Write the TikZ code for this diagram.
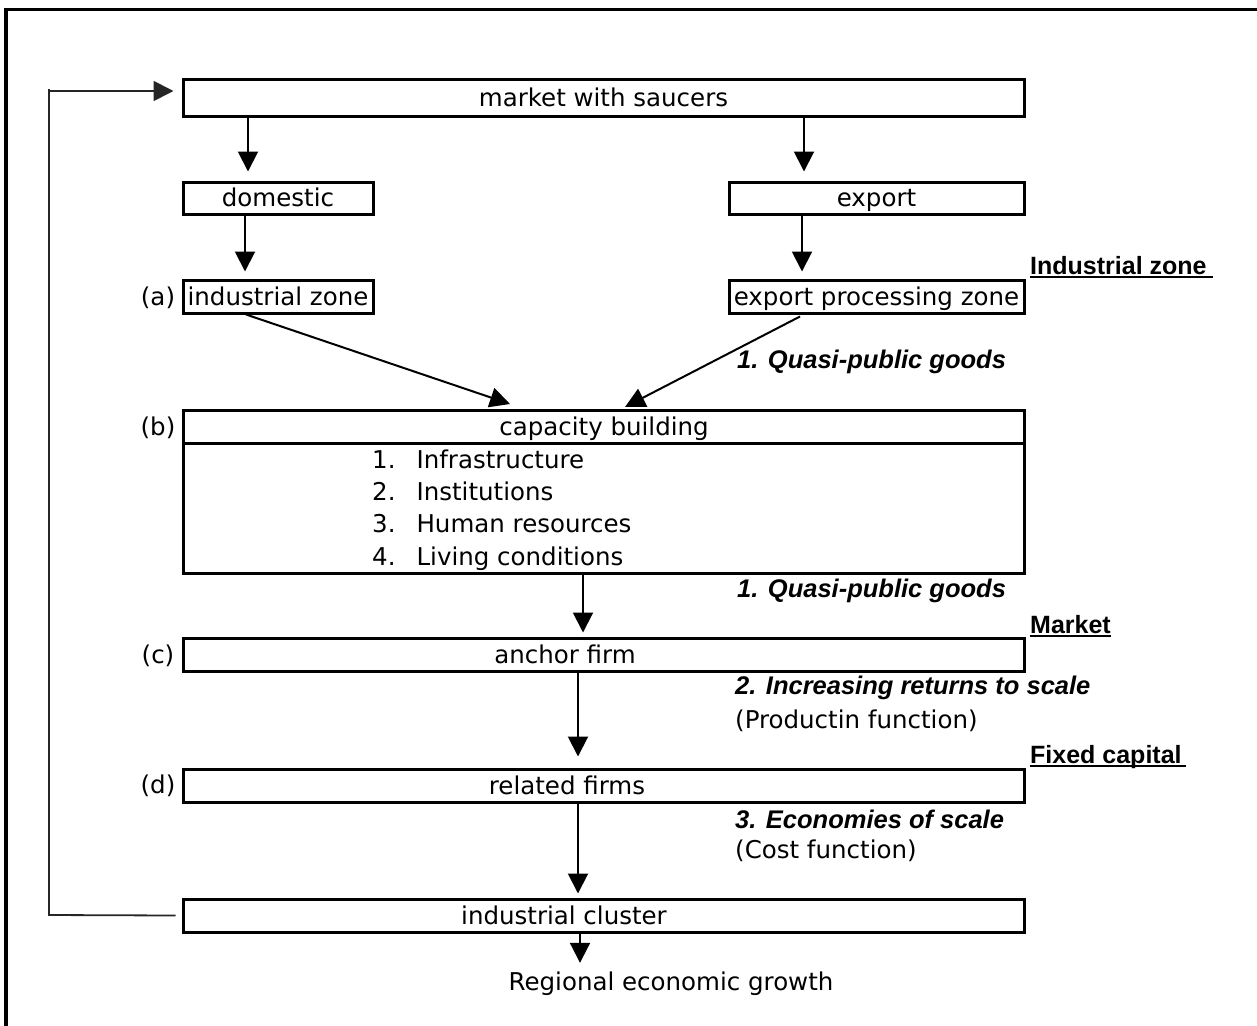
\documentclass[tikz,border=0pt]{standalone}
\usepackage{fontspec}
\setmainfont{DejaVu Sans}
\newfontfamily\libfont{Liberation Sans}
\usetikzlibrary{arrows.meta}
\begin{document}
\begin{tikzpicture}[x=1pt,y=-1pt,
  every node/.style={font=\fontsize{24.5}{32}\selectfont},
  box/.style={draw, line width=3pt, inner sep=0pt, text height=19.5pt, text depth=2.5pt},
  txt/.style={inner sep=0pt, text height=19.5pt, text depth=2.5pt},
  emtxt/.style={inner sep=0pt, anchor=west, font=\libfont\bfseries\itshape\fontsize{25.5}{30}\selectfont},
  headtxt/.style={inner sep=0pt, anchor=base west, font=\libfont\bfseries\fontsize{25}{30}\selectfont},
  uline/.style={line width=1.8pt},
  arr/.style={line width=2pt, -{Triangle[length=20pt,width=20pt]}},
  fbline/.style={line width=1.8pt, black!85},
  frame/.style={line width=3.5pt}]
\useasboundingbox (0,0) rectangle (1257,1025);
\clip (0,0) rectangle (1257,1025);
% outer frame (cut off at right and bottom)
\draw[frame] (6,1100) -- (6,9.5) -- (1300,9.5);

% boxes
\node[box, minimum width=841pt, minimum height=37pt] (market) at (603.5,97.5) {market with saucers};
\node[box, minimum width=190pt, minimum height=32pt] (domestic) at (278,198) {domestic};
\node[box, minimum width=295pt, minimum height=32pt] (export) at (876.5,198) {export};
\node[box, minimum width=190pt, minimum height=33pt] (indzone) at (278,296.5) {industrial zone};
\node[box, minimum width=295pt, minimum height=33pt] (epz) at (876.5,296.5) {export processing zone};
\node[box, minimum width=841pt, minimum height=163pt] (cap) at (603.5,491.5) {};
\node[box, minimum width=841pt, minimum height=33pt] (anchor) at (603.5,654.5) {};
\node[box, minimum width=841pt, minimum height=33pt] (related) at (603.5,785.5) {};
\node[box, minimum width=841pt, minimum height=33pt] (cluster) at (603.5,915.5) {};

% divider in capacity building box
\coordinate (divy) at (0,443);
\draw[line width=3pt] (cap.west |- divy) -- (cap.east |- divy);

% box texts
\node[txt] (captitle) at (604,427) {capacity building};
\node[txt, anchor=west] (l1) at (372,460) {1.\hspace{21pt}Infrastructure};
\node[txt, anchor=west] (l2) at (372,492) {2.\hspace{21pt}Institutions};
\node[txt, anchor=west] (l3) at (372,524) {3.\hspace{21pt}Human resources};
\node[txt, anchor=west] (l4) at (372,557) {4.\hspace{21pt}Living conditions};
\node[txt] (anchortxt) at (565,655) {anchor firm};
\node[txt] (relatedtxt) at (567,786) {related firms};
\node[txt] (clustertxt) at (564,916) {industrial cluster};
\node[txt] (growth) at (671,982) {Regional economic growth};

% side labels
\node[txt] (la) at (158,297) {(a)};
\node[txt] (lb) at (158,427) {(b)};
\node[txt] (lc) at (158,655) {(c)};
\node[txt] (ld) at (158,785) {(d)};

% right-hand annotations
\node[headtxt] (hiz) at (1030,274) {Industrial zone};
\draw[uline] ([yshift=-3pt]hiz.base west) -- ([yshift=-3pt,xshift=6pt]hiz.base east);
\node[headtxt] (hmk) at (1030,633) {Market};
\draw[uline] ([yshift=-3pt]hmk.base west) -- ([yshift=-3pt]hmk.base east);
\node[headtxt] (hfc) at (1030,763) {Fixed capital};
\draw[uline] ([yshift=-3pt]hfc.base west) -- ([yshift=-3pt,xshift=4pt]hfc.base east);

\node[emtxt] (q1) at (737,362) {1. Quasi-public goods};
\node[emtxt] (q2) at (737,591) {1. Quasi-public goods};
\node[emtxt] (irs) at (735,688) {2. Increasing returns to scale};
\node[txt, anchor=west] (pf) at (735,720) {(Productin function)};
\node[emtxt] (eos) at (735,819) {3. Economies of scale};
\node[txt, anchor=west] (cf) at (735,850) {(Cost function)};

% helper x positions
\coordinate (x248) at (248,0);
\coordinate (x804) at (804,0);
\coordinate (x245) at (245,0);
\coordinate (x802) at (802,0);
\coordinate (x246) at (246,0);
\coordinate (x800) at (800,0);
\coordinate (x583) at (583,0);
\coordinate (x578) at (578,0);
\coordinate (x580) at (580,0);
\coordinate (t1) at (510,404);
\coordinate (t2) at (625,407);

% connectors
\draw[arr, shorten >=9pt] (market.south -| x248) -- (domestic.north -| x248);
\draw[arr, shorten >=9pt] (market.south -| x804) -- (export.north -| x804);
\draw[arr, shorten >=7pt] (domestic.south -| x245) -- (indzone.north -| x245);
\draw[arr, shorten >=7pt] (export.south -| x802) -- (epz.north -| x802);
\draw[arr] (indzone.south -| x246) -- (t1);
\draw[arr] ([yshift=-2pt]epz.south -| x800) -- (t2);
\draw[arr, shorten >=4pt] (cap.south -| x583) -- (anchor.north -| x583);
\draw[arr, shorten >=11pt] (anchor.south -| x578) -- (related.north -| x578);
\draw[arr, shorten >=4pt] (related.south -| x578) -- (cluster.north -| x578);
\draw[arr, shorten >=8pt] (cluster.south -| x580) -- (growth.north -| x580);

% feedback loop
\coordinate (fb1) at (49,915);
\coordinate (fb2) at (49,89);
\coordinate (fb3) at (49,91);
\draw[fbline] ([xshift=-6pt]cluster.west) -- (fb1) -- (fb2);
\draw[fbline, -{Triangle[length=20pt,width=20pt]}, shorten >=8pt] (fb3) -- (market.west |- fb3);
\end{tikzpicture}
\end{document}
